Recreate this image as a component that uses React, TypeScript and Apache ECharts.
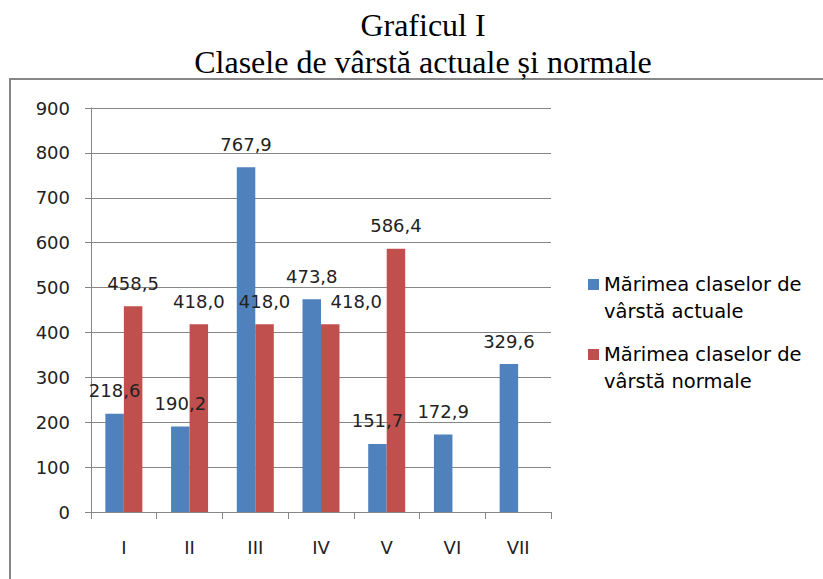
import React, { useEffect, useRef } from "react";
import * as echarts from "echarts";

const categories = ["I", "II", "III", "IV", "V", "VI", "VII"];
const actualValues: (number | null)[] = [218.6, 190.2, 767.9, 473.8, 151.7, 172.9, 329.6];
const normalValues: (number | null)[] = [458.5, 418.0, 418.0, 418.0, 586.4, null, null];
const seriesNames = ["Mărimea claselor de\nvârstă actuale", "Mărimea claselor de\nvârstă normale"];
const titleLines = ["Graficul I", "Clasele de vârstă actuale și normale"];

const fmt = (p: any) => (p.value == null ? "" : Number(p.value).toFixed(1).replace(".", ","));

// square sitting at the top of a tall icon box, so it lines up with the first text line
const legendIcon = "path://M0,0h11v11h-11z M0,37.99h0.01v0.01h-0.01z";

export default function App() {
  const ref = useRef<HTMLDivElement>(null);
  useEffect(() => {
    document.body.style.margin = "0";
    const chart = echarts.init(ref.current!, undefined, { renderer: "svg" });
    const axisFont = { fontFamily: "DejaVu Sans", fontSize: 18, color: "#222" };
    const titleFont = { fontFamily: "Liberation Serif", fontSize: 32, fontWeight: "normal", color: "#000" };
    // the label of category IV (normal series) is nudged right, as in the original
    const normalData = normalValues.map((v, i) =>
      i === 3 ? { value: v, label: { offset: [26, 0] } } : v
    );
    chart.setOption({
      animation: false,
      backgroundColor: "#fff",
      title: [
        { text: titleLines[0], left: 418, top: 4, textAlign: "center", textStyle: titleFont },
        { text: titleLines[1], left: 418, top: 41, textAlign: "center", textStyle: titleFont },
      ],
      graphic: [
        {
          type: "rect",
          z: -10,
          shape: { x: 10, y: 79, width: 900, height: 600 },
          style: { fill: "none", stroke: "#868686", lineWidth: 2 },
        },
      ],
      grid: { left: 91, right: 272, top: 108, bottom: 67 },
      legend: {
        orient: "vertical",
        left: 588,
        top: 271,
        padding: 0,
        itemWidth: 11,
        itemHeight: 38,
        itemGap: 16,
        icon: legendIcon,
        symbolKeepAspect: false,
        textStyle: {
          fontFamily: "DejaVu Sans",
          fontSize: 19.5,
          color: "#000",
          lineHeight: 27,
        },
        data: seriesNames,
      },
      xAxis: {
        type: "category",
        data: categories,
        axisLine: { lineStyle: { color: "#868686", width: 1 } },
        axisTick: { show: true, length: 7, lineStyle: { color: "#868686" } },
        axisLabel: { ...axisFont, margin: 26 },
      },
      yAxis: {
        type: "value",
        min: 0,
        max: 900,
        interval: 100,
        axisLine: { show: true, lineStyle: { color: "#868686", width: 1 } },
        axisTick: { show: true, length: 6, lineStyle: { color: "#868686" } },
        axisLabel: { ...axisFont, margin: 21 },
        splitLine: { lineStyle: { color: "#868686", width: 1 } },
      },
      series: [
        {
          name: seriesNames[0],
          type: "bar",
          data: actualValues,
          barWidth: 18.5,
          barGap: "0%",
          itemStyle: { color: "#4F81BD" },
          label: { show: true, position: "top", distance: 14, formatter: fmt, ...axisFont },
        },
        {
          name: seriesNames[1],
          type: "bar",
          data: normalData,
          barWidth: 18.5,
          barGap: "0%",
          itemStyle: { color: "#C0504D" },
          label: { show: true, position: "top", distance: 14, formatter: fmt, ...axisFont },
        },
      ],
    });
    return () => chart.dispose();
  }, []);
  return <div ref={ref} style={{ width: 823, height: 579 }} />;
}
